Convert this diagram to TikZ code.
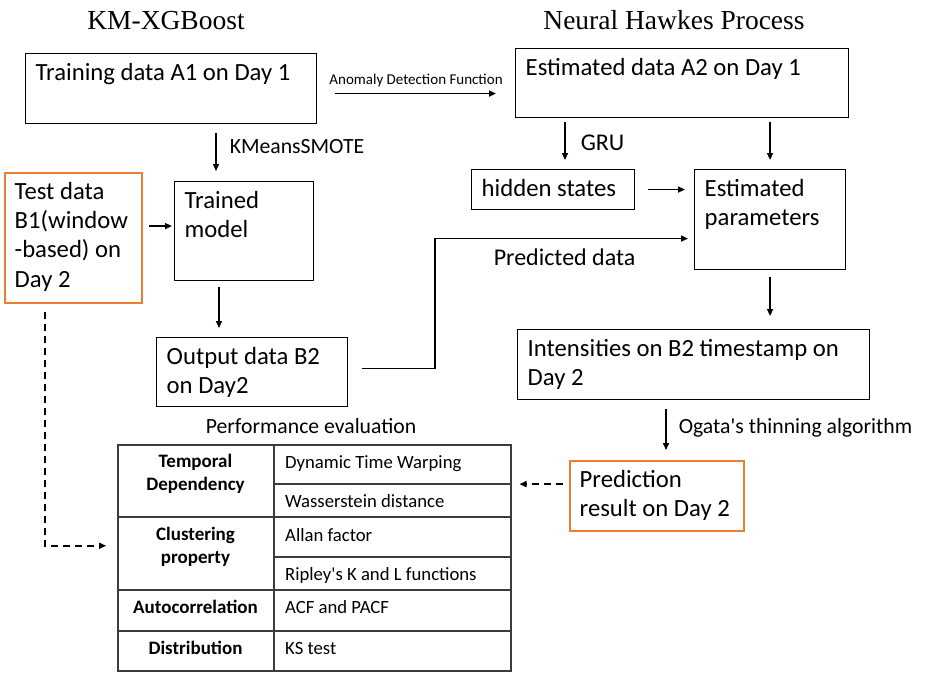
\documentclass[tikz,border=0pt]{standalone}
\usepackage{fontspec}
\setmainfont{Carlito}
\newfontfamily\titlefont{Liberation Serif}
\definecolor{hlorange}{RGB}{237, 125, 49}
\definecolor{gridgray}{RGB}{60, 60, 60}
\usetikzlibrary{arrows.meta, positioning, calc}
\tikzset{
  box/.style={draw, line width=1.1pt, anchor=north west, inner sep=0pt},
  hlbox/.style={box, draw=hlorange, line width=2.2pt},
  boxtext/.style={anchor=north west, align=left, inner xsep=10.5pt, inner ysep=10pt, font=\fontsize{24.7}{29.3}\selectfont},
  arr/.style={-{Triangle[length=7pt, width=6pt]}, line width=1.5pt},
  dasharr/.style={arr, dash pattern=on 7pt off 5pt},
  note/.style={font=\fontsize{21.7}{26}\selectfont},
  grid/.style={draw=gridgray, line width=1.5pt},
  cell/.style={anchor=base west, inner sep=0pt, font=\fontsize{18.7}{23}\selectfont},
  head/.style={anchor=base, align=center, inner sep=0pt, font=\bfseries\fontsize{19}{22.5}\selectfont},
  ttl/.style={anchor=base, font=\titlefont\fontsize{27.5}{33}\selectfont}
}

\begin{document}
\begin{tikzpicture}[x=1pt, y=-1pt]
  \useasboundingbox (0,0) rectangle (934,686);

  \node[ttl] (kmttl) at (166,29) {KM-XGBoost};
  \node[ttl] (nhttl) at (674,29) {Neural Hawkes Process};

  \node[box, minimum width=291pt, minimum height=70pt, label={[boxtext]north west:Training data A1 on Day 1}] (trainA) at (25,53) {};
  \node[box, minimum width=333pt, minimum height=69pt, label={[boxtext]north west:Estimated data A2 on Day 1}] (estA) at (515,48) {};
  \node[hlbox, minimum width=137pt, minimum height=130pt, label={[boxtext]north west:Test data\\B1(window\\-based) on\\Day 2}] (testB) at (4,172) {};
  \node[box, minimum width=139pt, minimum height=99pt, label={[boxtext]north west:Trained\\model}] (trained) at (174,181) {};
  \node[box, minimum width=163pt, minimum height=40pt, label={[boxtext]north west:hidden states}] (hidden) at (471,169) {};
  \node[box, minimum width=151pt, minimum height=100pt, label={[boxtext]north west:Estimated\\parameters}] (estP) at (694,169) {};
  \node[box, minimum width=191pt, minimum height=69pt, label={[boxtext]north west:Output data B2\\on Day2}] (outB) at (156,337) {};
  \node[box, minimum width=352pt, minimum height=70pt, label={[boxtext]north west:Intensities on B2 timestamp on\\Day 2}] (intens) at (517,329) {};
  \node[hlbox, minimum width=174pt, minimum height=70pt, label={[boxtext]north west:Prediction\\result on Day 2}] (pred) at (569,460) {};

  \node[note, anchor=base] (perfttl) at (311,433) {Performance evaluation};
  \node[box, grid, minimum width=393pt, minimum height=226pt] (perf) at (117,444) {};
  \draw[grid] (274,444) -- (274,670);
  \foreach \y in {517,590,631}
    \draw[grid] (117,\y) -- (510,\y);
  \foreach \y in {484,557}
    \draw[grid] (274,\y) -- (510,\y);
  \node[head] (tdep) at (195.5,490) {Temporal\\Dependency};
  \node[head] (clus) at (195.5,563) {Clustering\\property};
  \node[head] (acorr) at (195.5,613) {Autocorrelation};
  \node[head] (distr) at (195.5,654) {Distribution};
  \foreach \y/\t in {468/Dynamic Time Warping, 507/Wasserstein distance, 541/Allan factor, 580/Ripley\textquotesingle s K and L functions, 613/ACF and PACF, 654/KS test}
    \node[cell] (m\y) at (285,\y) {\t};

  \coordinate (smx) at (216,0);
  \coordinate (tox) at (219,0);
  \coordinate (grux) at (565,0);
  \coordinate (ogx) at (666,0);
  \coordinate (tdx) at (45,0);

  \draw[arr, shorten <=18pt, shorten >=19pt] ([yshift=-5pt]trainA.east) -- ([yshift=-5pt]trainA.east -| estA.west)
    node[midway, anchor=base, yshift=9pt, font=\fontsize{15}{18}\selectfont] {Anomaly Detection Function};
  \draw[arr, shorten <=9pt, shorten >=10pt] (trainA.south -| smx) -- (trained.north -| smx)
    node[midway, note, anchor=base west, xshift=9.7pt, yshift=-1pt] {KMeansSMOTE};
  \draw[arr, shorten <=6pt, shorten >=2pt] ([yshift=5pt]trained.west -| testB.east) -- ([yshift=5pt]trained.west);
  \draw[arr, shorten <=6pt, shorten >=9pt] (trained.south -| tox) -- (outB.north -| tox);
  \draw[arr, shorten <=14pt, shorten >=6pt] ([yshift=3.5pt]outB.east) -- ++(87,0) |- ([yshift=-19pt]estP.west)
    node[pos=0.75, anchor=base, yshift=-27pt, font=\fontsize{24}{29}\selectfont] {Predicted data};
  \draw[arr, shorten <=4pt, shorten >=9pt] (estA.south -| grux) -- (hidden.north -| grux)
    node[midway, anchor=base west, xshift=11.7pt, yshift=-7pt, font=\fontsize{24}{29}\selectfont] {GRU};
  \draw[arr, shorten <=4pt, shorten >=9pt] (estA.south -| estP.north) -- (estP.north);
  \draw[arr, shorten <=13pt, shorten >=9pt] (hidden.east) -- (hidden.east -| estP.west);
  \draw[arr, shorten <=7pt, shorten >=13pt] (estP.south) -- (estP.south |- intens.north);
  \draw[arr, shorten <=9pt, shorten >=10pt] (intens.south -| ogx) -- (pred.north -| ogx)
    node[midway, note, anchor=base west, xshift=8.7pt, yshift=-3.5pt] {Ogata\textquotesingle s thinning algorithm};
  \draw[dasharr, shorten <=6pt, shorten >=8pt] ([yshift=12pt]pred.west) -- ([yshift=12pt]pred.west -| perf.east);
  \draw[dasharr, shorten <=8pt, shorten >=11pt] (testB.south -| tdx) |- ([yshift=12pt]perf.west);
\end{tikzpicture}
\end{document}
